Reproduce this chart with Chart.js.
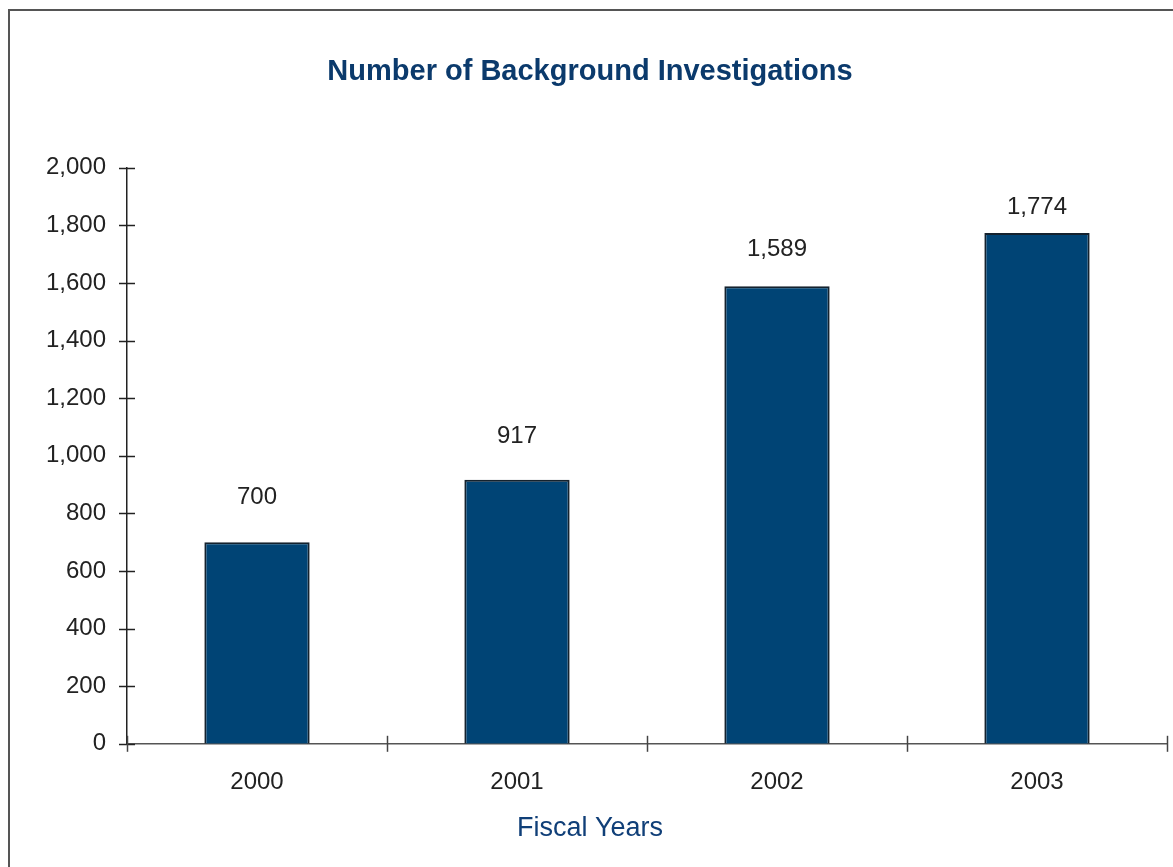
<!DOCTYPE html>
<html>
<head>
<meta charset="utf-8">
<script src="https://cdn.jsdelivr.net/npm/chart.js@4/dist/chart.umd.min.js"></script>
<style>
  html, body { margin: 0; padding: 0; background: #fff; }
  #wrap { position: relative; width: 1173px; height: 867px; overflow: hidden; }
  #frame { position: absolute; left: 8px; top: 9px; width: 1400px; height: 1200px;
           border: 2px solid #555; pointer-events: none; }
</style>
</head>
<body>
<div id="wrap">
  <canvas id="bgChart" width="1173" height="867"></canvas>
  <div id="frame"></div>
</div>
<script>
// Number of background investigations by fiscal year
const fiscalYears = ['2000', '2001', '2002', '2003'];
const investigations = [700, 917, 1589, 1774];
const yTicks = [0, 200, 400, 600, 800, 1000, 1200, 1400, 1600, 1800, 2000];

const NAVY = '#0b3a6c';
const TEXT = '#222222';
const FONT = '"Liberation Sans", Arial, sans-serif';

// value labels above each bar, offsets in px from bar top
const valueLabels = {
  id: 'valueLabels',
  afterDatasetsDraw(chart, args, opts) {
    const { ctx } = chart;
    const meta = chart.getDatasetMeta(0);
    ctx.save();
    ctx.font = '24px ' + FONT;
    ctx.fillStyle = TEXT;
    ctx.textAlign = 'center';
    ctx.textBaseline = 'middle';
    meta.data.forEach((bar, i) => {
      const v = chart.data.datasets[0].data[i];
      ctx.fillText(v.toLocaleString('en-US'), bar.x, bar.y - opts.offsets[i]);
    });
    ctx.restore();
  }
};

// tick marks that cross both axes
const crossTicks = {
  id: 'crossTicks',
  afterDraw(chart) {
    const { ctx, chartArea } = chart;
    const xs = chart.scales.x, ys = chart.scales.y;
    ctx.save();
    ctx.lineWidth = 1.5;
    ctx.strokeStyle = '#222';
    ys.ticks.forEach(t => {
      const y = Math.round(ys.getPixelForValue(t.value)) + 0.5;
      ctx.beginPath();
      ctx.moveTo(chartArea.left - 8, y);
      ctx.lineTo(chartArea.left + 8, y);
      ctx.stroke();
    });
    ctx.strokeStyle = '#444';
    const step = xs.getPixelForValue(1) - xs.getPixelForValue(0);
    for (let i = 0; i <= fiscalYears.length; i++) {
      const x = Math.round(xs.getPixelForValue(0) - step / 2 + i * step) + 0.5;
      ctx.beginPath();
      ctx.moveTo(x, chartArea.bottom - 8);
      ctx.lineTo(x, chartArea.bottom + 8);
      ctx.stroke();
    }
    ctx.restore();
  }
};

new Chart(document.getElementById('bgChart'), {
  type: 'bar',
  data: {
    labels: fiscalYears,
    datasets: [{
      label: 'Background Investigations',
      data: investigations,
      backgroundColor: '#004475',
      borderColor: '#14222e',
      borderWidth: 2,
      barPercentage: 0.405,
      categoryPercentage: 1
    }]
  },
  options: {
    responsive: false,
    animation: false,
    layout: { padding: { left: 13, right: 6, top: 0, bottom: 0 } },
    plugins: {
      legend: { display: false },
      tooltip: { enabled: false },
      title: {
        display: true,
        text: 'Number of Background Investigations',
        color: NAVY,
        font: { family: FONT, size: 29, weight: 'bold' },
        padding: { top: 55, bottom: 78 }
      },
      subtitle: {
        display: true,
        position: 'bottom',
        text: 'Fiscal Years',
        color: '#103f78',
        font: { family: FONT, size: 27 },
        padding: { top: 0, bottom: 22 }
      },
      valueLabels: { offsets: [45, 43, 37, 26] }
    },
    scales: {
      x: {
        grid: { display: false },
        border: { display: true, color: '#555', width: 1.5 },
        ticks: {
          color: TEXT,
          padding: 16,
          font: { family: FONT, size: 24 }
        }
      },
      y: {
        min: 0,
        max: 2000,
        afterBuildTicks: scale => { scale.ticks = yTicks.map(v => ({ value: v })); },
        afterFit: scale => { scale.width = 114; },
        grid: { display: false },
        border: { display: true, color: '#222', width: 1.5 },
        ticks: {
          color: TEXT,
          padding: 13,
          font: { family: FONT, size: 24 },
          callback: v => v.toLocaleString('en-US')
        }
      }
    }
  },
  plugins: [valueLabels, crossTicks]
});
</script>
</body>
</html>
